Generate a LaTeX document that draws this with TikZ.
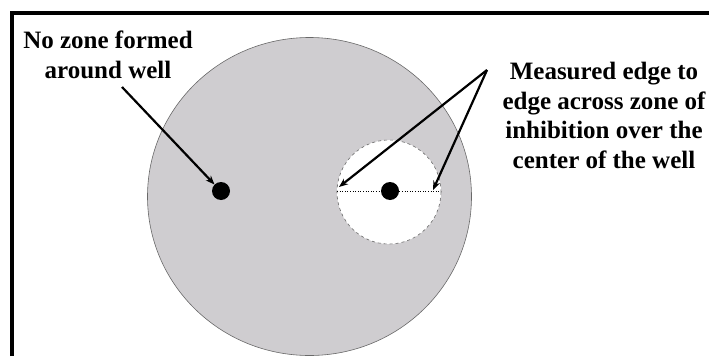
\documentclass[tikz,border=0pt]{standalone}
\usepackage{fontspec}
\setmainfont{Liberation Serif}
\usetikzlibrary{arrows.meta}

\definecolor{plategray}{RGB}{207,205,208}
\definecolor{rimgray}{RGB}{105,105,105}

\begin{document}
\begin{tikzpicture}[x=1pt,y=-1pt,
  label/.style={align=center,font=\fontsize{25}{29.5}\selectfont\bfseries,inner sep=0pt},
  well/.style={circle,fill=black,minimum size=18pt,inner sep=0pt},
  pointer/.style={line width=2.2pt,-{Stealth[length=9pt,width=7pt]}}]
  \useasboundingbox (0,0) rectangle (709,356);
  % Frame
  \draw[line width=3.2pt] (12,356) |- (709,13);
  % Agar plate
  \draw[rimgray,fill=plategray,line width=0.6pt] (309.5,196.5) ellipse [x radius=162, y radius=159];
  % Zone of inhibition
  \draw[rimgray,fill=white,dashed,line width=0.6pt] (389,192) circle [radius=52];
  \draw[dotted,line width=0.6pt] (337,191) -- (441,191);
  % Wells
  \node[well] (wellA) at (221,191) {};
  \node[well] (wellB) at (390,191) {};
  % Labels
  \node[label,anchor=base] (nozone) at (108,78) {No zone formed\\around well};
  \node[label,anchor=base] (measured) at (604,168) {Measured edge to\\edge across zone of\\inhibition over the\\center of the well};
  % Arrows
  \coordinate (tailA) at (122,87);
  \coordinate (apex) at (487,70);
  \coordinate (edgeL) at (339,187);
  \coordinate (edgeR) at (433,190);
  \draw[pointer] (tailA) -- (wellA.north west);
  \draw[pointer] (apex) -- (edgeL);
  \draw[pointer] (apex) -- (edgeR);
\end{tikzpicture}
\end{document}
